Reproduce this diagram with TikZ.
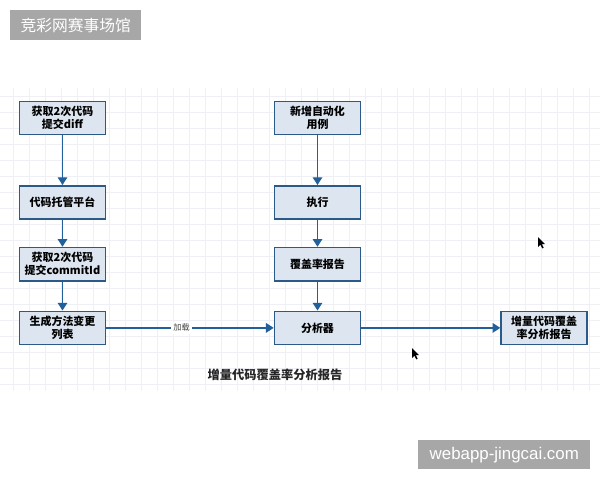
\documentclass[tikz,border=0pt]{standalone}
\usepackage{fontspec}
\setmainfont{Liberation Sans}
\newfontfamily\cjk{Noto Sans CJK SC}
\usepackage{tikz}
\usetikzlibrary{arrows.meta,positioning}
\usepackage{xcolor}
\definecolor{boxline}{HTML}{2B5A88}
\definecolor{boxfill}{HTML}{DDE6F0}
\definecolor{flowblue}{HTML}{22609C}
\definecolor{gridline}{HTML}{EEF0F3}
\definecolor{markgray}{HTML}{A7A7A7}
\begin{document}
\begin{tikzpicture}[x=0.025cm,y=-0.025cm,
    stepbox/.style={draw=boxline,line width=1.1pt,fill=boxfill,
      minimum width=2.15cm,minimum height=0.83cm,align=center,inner sep=2pt,
      font=\cjk\bfseries\fontsize{7.8}{9.3}\selectfont},
    flowline/.style={-{Triangle[length=5.5pt,width=6.8pt]},draw=flowblue,line width=1pt},
    watermark/.style={fill=markgray,text=white,inner sep=0pt,anchor=north west}]
  \fill[white] (0,0) rectangle (600,480);
  \useasboundingbox (0,0) rectangle (600,480);
  % faint grid of the canvas
  \foreach \gx in {13,29,...,600}
    \draw[gridline,line width=0.4pt] (\gx,88) -- (\gx,391);
  \foreach \gy in {96,112,...,391}
    \draw[gridline,line width=0.4pt] (0,\gy) -- (600,\gy);

  % left column
  \node[stepbox] (diff) at (62.5,118) {获取2次代码\\提交diff};
  \node[stepbox,below=1.24cm of diff] (host) {代码托管平台};
  \node[stepbox,below=0.675cm of host] (commit) {获取2次代码\\提交commitId};
  \node[stepbox,below=0.725cm of commit] (methods) {生成方法变更\\列表};
  % middle column
  \node[stepbox] (cases) at (317.5,118) {新增自动化\\用例};
  \node[stepbox,below=1.24cm of cases] (run) {执行};
  \node[stepbox,below=0.675cm of run] (cover) {覆盖率报告};
  \node[stepbox,below=0.725cm of cover] (analyzer) {分析器};
  % result
  \node[stepbox,right=3.475cm of analyzer] (report) {增量代码覆盖\\率分析报告};
  \node[font=\cjk\bfseries\fontsize{8.7}{10}\selectfont,text=black!85] (title) at (275,375)
    {增量代码覆盖率分析报告};

  \draw[flowline] (diff) -- (host);
  \draw[flowline] (host) -- (commit);
  \draw[flowline] (commit) -- (methods);
  \draw[flowline] (cases) -- (run);
  \draw[flowline] (run) -- (cover);
  \draw[flowline] (cover) -- (analyzer);
  \draw[flowline] (methods) -- node[pos=0.45,fill=white,inner sep=1.5pt,text=black!75,
    font=\cjk\fontsize{5.8}{7}\selectfont] (load) {加载} (analyzer);
  \draw[flowline] (analyzer) -- (report);

  % mouse pointers
  \fill[black] (538,237) -- ++(0,10) -- ++(2.4,-2.2) -- ++(1.8,3.6) -- ++(1.5,-0.7)
    -- ++(-1.8,-3.5) -- ++(3.2,0) -- cycle;
  \fill[black] (412,348) -- ++(0,10) -- ++(2.4,-2.2) -- ++(1.8,3.6) -- ++(1.5,-0.7)
    -- ++(-1.8,-3.5) -- ++(3.2,0) -- cycle;

  % watermarks
  \node[watermark,minimum width=3.275cm,minimum height=0.75cm,
    font=\cjk\fontsize{11.2}{12}\selectfont] (topmark) at (10,10) {竞彩网赛事场馆};
  \node[watermark,minimum width=4.3cm,minimum height=0.725cm,
    font=\fontsize{12}{13}\selectfont] (bottommark) at (418,440) {webapp-jingcai.com};
\end{tikzpicture}
\end{document}
